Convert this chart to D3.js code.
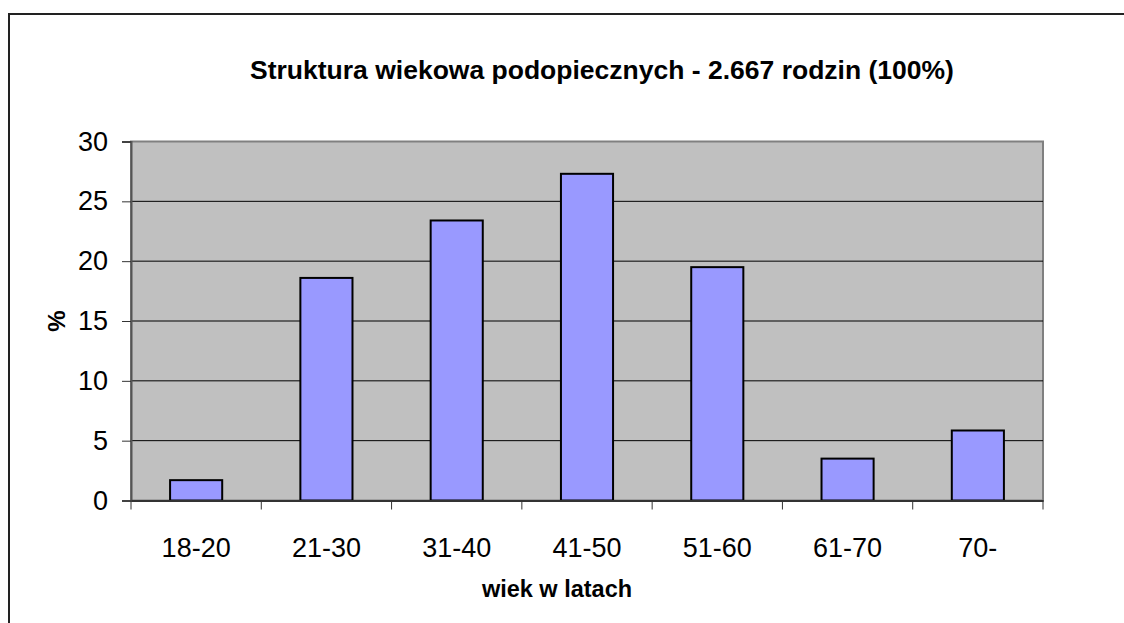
<!DOCTYPE html>
<html>
<head>
<meta charset="utf-8">
<script src="https://cdn.jsdelivr.net/npm/d3@7"></script>
<style>
  body { margin: 0; background: #fff; }
  svg { display: block; font-family: Arial, "Liberation Sans", sans-serif; }
</style>
</head>
<body>
<div id="chart"></div>
<script>
// data
var categories = ["18-20", "21-30", "31-40", "41-50", "51-60", "61-70", "70-"];
var values = [1.7, 18.6, 23.4, 27.3, 19.5, 3.5, 5.85];
var yTicks = [0, 5, 10, 15, 20, 25, 30];

var titleText = "Struktura wiekowa podopiecznych - 2.667 rodzin (100%)";
var xTitle = "wiek w latach";
var yTitle = "%";

function drawChart() {
    var width = 1124, height = 623;
    var plotLeft = 131, plotRight = 1043, plotTop = 141.5, plotBottom = 500.5;

    var svg = d3.select("#chart").append("svg")
        .attr("width", width)
        .attr("height", height);

    // outer frame (runs off the right and bottom edge)
    svg.append("rect")
        .attr("x", 9).attr("y", 14)
        .attr("width", 1140).attr("height", 640)
        .attr("fill", "#fff")
        .attr("stroke", "#222")
        .attr("stroke-width", 2);

    var x = d3.scaleBand()
        .domain(categories)
        .range([plotLeft, plotRight])
        .padding(0);

    var y = d3.scaleLinear()
        .domain([0, 30])
        .range([plotBottom, plotTop]);

    // plot background
    svg.append("rect")
        .attr("x", plotLeft).attr("y", plotTop)
        .attr("width", plotRight - plotLeft).attr("height", plotBottom - plotTop)
        .attr("fill", "#c0c0c0")
        .attr("stroke", "#808080")
        .attr("stroke-width", 2);

    // gridlines
    svg.append("g")
        .selectAll("line")
        .data(yTicks.filter(function(d) { return d > 0 && d < 30; }))
        .enter()
        .append("line")
        .attr("x1", plotLeft).attr("x2", plotRight)
        .attr("y1", function(d) { return y(d); })
        .attr("y2", function(d) { return y(d); })
        .attr("stroke", "#000")
        .attr("stroke-width", 1);

    // bars
    var bw = x.bandwidth();
    svg.append("g")
        .selectAll("rect")
        .data(values)
        .enter()
        .append("rect")
        .attr("x", function(d, i) { return x(categories[i]) + bw * 0.3; })
        .attr("y", function(d) { return y(d); })
        .attr("width", bw * 0.4)
        .attr("height", function(d) { return y(0) - y(d); })
        .attr("fill", "#9999ff")
        .attr("stroke", "#000")
        .attr("stroke-width", 2);

    // y axis
    var yAxis = d3.axisLeft(y)
        .tickValues(yTicks)
        .tickSize(9)
        .tickPadding(14);

    var gy = svg.append("g")
        .attr("transform", "translate(" + plotLeft + ",0)")
        .call(yAxis);
    gy.select(".domain").attr("stroke", "#555").attr("stroke-width", 2);
    gy.selectAll(".tick line").attr("stroke", "#333");
    gy.selectAll("text")
        .attr("font-size", 27)
        .attr("font-family", "Arial, 'Liberation Sans', sans-serif")
        .attr("fill", "#000");

    // x axis: ticks on the category boundaries
    var xAxis = d3.axisBottom(x).tickSize(0).tickPadding(37);
    var gx = svg.append("g")
        .attr("transform", "translate(0," + plotBottom + ")")
        .call(xAxis);
    gx.select(".domain").attr("stroke", "#333").attr("stroke-width", 2);
    gx.selectAll("text")
        .attr("font-size", 27)
        .attr("font-family", "Arial, 'Liberation Sans', sans-serif")
        .attr("fill", "#000");

    var bounds = categories.map(function(c) { return x(c); }).concat([plotRight]);
    gx.append("g")
        .selectAll("line")
        .data(bounds)
        .enter()
        .append("line")
        .attr("x1", function(d) { return d; })
        .attr("x2", function(d) { return d; })
        .attr("y1", 0).attr("y2", 9)
        .attr("stroke", "#333");

    // titles
    svg.append("text")
        .attr("x", 602).attr("y", 79)
        .attr("text-anchor", "middle")
        .attr("font-size", 26.5)
        .attr("font-weight", "bold")
        .text(titleText);

    svg.append("text")
        .attr("x", 557).attr("y", 597)
        .attr("text-anchor", "middle")
        .attr("font-size", 23.5)
        .attr("font-weight", "bold")
        .text(xTitle);

    svg.append("text")
        .attr("transform", "translate(65,321) rotate(-90)")
        .attr("text-anchor", "middle")
        .attr("font-size", 24)
        .attr("font-weight", "bold")
        .text(yTitle);
}

drawChart();
</script>
</body>
</html>
